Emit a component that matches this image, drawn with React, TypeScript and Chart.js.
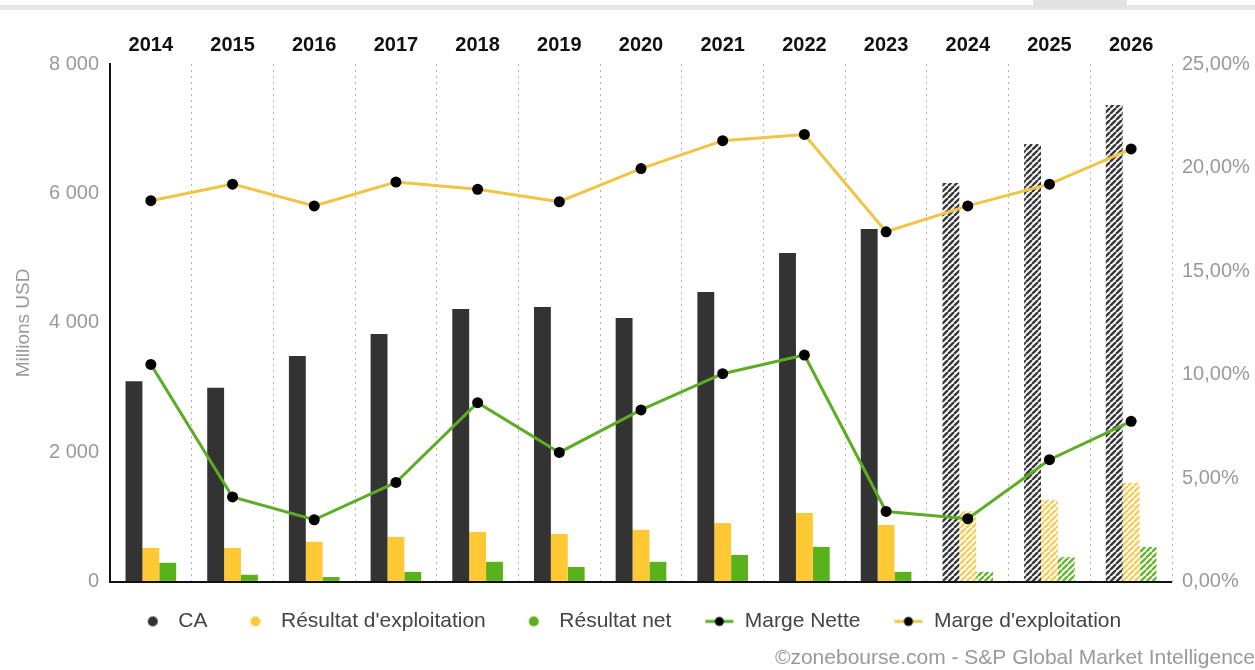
import React, { useEffect, useRef } from 'react';
import { Chart, registerables } from 'chart.js';

Chart.register(...registerables);

const years = ['2014', '2015', '2016', '2017', '2018', '2019', '2020', '2021', '2022', '2023', '2024', '2025', '2026'];
const estimated = [false, false, false, false, false, false, false, false, false, false, true, true, true];
const chiffreAffaires = [3100, 3000, 3490, 3830, 4215, 4245, 4075, 4480, 5080, 5450, 6160, 6765, 7365];
const resultatExploitation = [525, 525, 620, 695, 770, 740, 805, 910, 1065, 880, 1090, 1270, 1530];
const resultatNet = [295, 110, 75, 155, 310, 230, 310, 415, 540, 155, 155, 385, 540];
const margeNette = [10.5, 4.1, 3.0, 4.8, 8.65, 6.25, 8.3, 10.05, 10.95, 3.4, 3.05, 5.9, 7.75];
const margeExploitation = [18.4, 19.2, 18.15, 19.3, 18.95, 18.35, 19.95, 21.3, 21.6, 16.9, 18.15, 19.2, 20.9];
const leftTickValues = [0, 2000, 4000, 6000, 8000];
const rightTickValues = [0, 5, 10, 15, 20, 25];

const FONT = "'Liberation Sans', Arial, sans-serif";
const C_CA = '#333333';
const C_EXP = '#ffc935';
const C_NET = '#59b21b';
const C_LINE_NET = '#5cad24';
const C_LINE_EXP = '#f0c444';

function hatch(ctx: CanvasRenderingContext2D, color: string) {
  const s = 6;
  const c = document.createElement('canvas');
  c.width = s;
  c.height = s;
  const g = c.getContext('2d')!;
  g.fillStyle = '#ffffff';
  g.fillRect(0, 0, s, s);
  g.strokeStyle = color;
  g.lineWidth = 2.4;
  g.beginPath();
  for (const k of [-s, 0, s]) {
    g.moveTo(k, s);
    g.lineTo(k + s, 0);
  }
  g.stroke();
  return ctx.createPattern(c, 'repeat')!;
}

const ICON_W = 34;

function dotIcon(color: string) {
  const c = document.createElement('canvas');
  c.width = ICON_W;
  c.height = 12;
  const g = c.getContext('2d')!;
  g.fillStyle = color;
  g.beginPath();
  g.arc(ICON_W - 15, 6, 5, 0, Math.PI * 2);
  g.fill();
  return c;
}

function lineIcon(color: string) {
  const c = document.createElement('canvas');
  c.width = ICON_W;
  c.height = 12;
  const g = c.getContext('2d')!;
  g.strokeStyle = color;
  g.lineWidth = 3;
  g.beginPath();
  g.moveTo(ICON_W - 29, 6);
  g.lineTo(ICON_W - 1, 6);
  g.stroke();
  g.fillStyle = '#000';
  g.beginPath();
  g.arc(ICON_W - 15, 6, 4.5, 0, Math.PI * 2);
  g.fill();
  return c;
}

const fmtLeft = (v: number) => String(v).replace(/\B(?=(\d{3})+(?!\d))/g, ' ');
const fmtRight = (v: number) => v.toFixed(2).replace('.', ',') + '%';

export default function App() {
  const ref = useRef<HTMLCanvasElement | null>(null);

  useEffect(() => {
    const canvas = ref.current!;
    const ctx = canvas.getContext('2d')!;
    const caColors = estimated.map((e) => (e ? hatch(ctx, '#3a3a3a') : C_CA));
    const expColors = estimated.map((e) => (e ? hatch(ctx, '#f8cd55') : C_EXP));
    const netColors = estimated.map((e) => (e ? hatch(ctx, '#62b82a') : C_NET));

    const legendIcons = [dotIcon(C_CA), dotIcon(C_EXP), dotIcon(C_NET), lineIcon(C_LINE_NET), lineIcon(C_LINE_EXP)];
    const legendOrder = [2, 3, 4, 0, 1];

    const chart = new Chart(ctx, {
      type: 'bar',
      data: {
        labels: years,
        datasets: [
          {
            type: 'line',
            label: 'Marge Nette',
            data: margeNette,
            yAxisID: 'y1',
            borderColor: C_LINE_NET,
            borderWidth: 3,
            pointRadius: 5.5,
            pointBackgroundColor: '#000',
            pointBorderColor: '#000',
            pointBorderWidth: 0,
            tension: 0,
          },
          {
            type: 'line',
            label: "Marge d'exploitation",
            data: margeExploitation,
            yAxisID: 'y1',
            borderColor: C_LINE_EXP,
            borderWidth: 3,
            pointRadius: 5.5,
            pointBackgroundColor: '#000',
            pointBorderColor: '#000',
            pointBorderWidth: 0,
            tension: 0,
          },
          {
            label: 'CA',
            data: chiffreAffaires,
            yAxisID: 'y',
            backgroundColor: caColors as any,
            categoryPercentage: 0.62,
            barPercentage: 1,
          },
          {
            label: "Résultat d'exploitation",
            data: resultatExploitation,
            yAxisID: 'y',
            backgroundColor: expColors as any,
            categoryPercentage: 0.62,
            barPercentage: 1,
          },
          {
            label: 'Résultat net',
            data: resultatNet,
            yAxisID: 'y',
            backgroundColor: netColors as any,
            categoryPercentage: 0.62,
            barPercentage: 1,
          },
        ],
      },
      options: {
        responsive: false,
        animation: false,
        events: [],
        layout: { padding: 0 },
        scales: {
          x: {
            position: 'top',
            grid: { color: '#b5b5b5', lineWidth: 1, drawTicks: false },
            border: { display: false, dash: [2, 4] },
            ticks: { color: '#111', font: { family: FONT, size: 20, weight: 'bold' }, padding: 7 },
            afterFit: (s: any) => {
              s.height = 64;
            },
          },
          y: {
            position: 'left',
            min: 0,
            max: 8000,
            afterBuildTicks: (s: any) => {
              s.ticks = leftTickValues.map((v) => ({ value: v }));
            },
            ticks: { color: '#9a9a9a', font: { family: FONT, size: 20 }, padding: 11, callback: (v: any) => fmtLeft(Number(v)) },
            grid: {
              drawTicks: false,
              lineWidth: 2,
              color: (c: any) => (c.tick && c.tick.value === 0 ? '#111' : 'rgba(0,0,0,0)'),
            },
            border: { display: true, color: '#111', width: 2 },
            title: { display: true, text: 'Millions USD', color: '#9a9a9a', font: { family: FONT, size: 19 }, padding: { top: 12, bottom: 0 } },
            afterFit: (s: any) => {
              s.width = 110;
            },
          },
          y1: {
            position: 'right',
            min: 0,
            max: 25,
            afterBuildTicks: (s: any) => {
              s.ticks = rightTickValues.map((v) => ({ value: v }));
            },
            ticks: { color: '#9a9a9a', font: { family: FONT, size: 20 }, padding: 10, callback: (v: any) => fmtRight(Number(v)) },
            grid: { display: false, drawTicks: false },
            border: { display: false },
            afterFit: (s: any) => {
              s.width = 83;
            },
          },
        },
        plugins: {
          tooltip: { enabled: false },
          legend: {
            display: true,
            position: 'bottom',
            labels: {
              usePointStyle: true,
              pointStyleWidth: ICON_W,
              boxHeight: 21,
              padding: 29,
              color: '#444',
              font: { family: FONT, size: 21 },
              generateLabels: (ch: any) =>
                legendOrder.map((di, i) => ({
                  text: ch.data.datasets[di].label,
                  fillStyle: '#000',
                  strokeStyle: '#000',
                  lineWidth: 0,
                  pointStyle: legendIcons[i],
                  hidden: false,
                  datasetIndex: di,
                  fontColor: '#444',
                })),
            },
          },
          title: {
            display: true,
            position: 'bottom',
            align: 'end',
            text: '©zonebourse.com - S&P Global Market Intelligence',
            color: '#999',
            font: { family: FONT, size: 21, weight: 'normal', lineHeight: 1.1 },
            padding: { top: 5, bottom: 0 },
          },
        },
      },
    } as any);

    return () => chart.destroy();
  }, []);

  return (
    <div style={{ position: 'fixed', left: 0, top: 0, width: 1255, height: 670, background: '#fff', overflow: 'hidden' }}>
      <canvas ref={ref} width={1255} height={670} style={{ width: 1255, height: 670, display: 'block' }} />
      <div style={{ position: 'absolute', left: 0, top: 5, width: 1255, height: 5, background: '#e8e8e8' }} />
      <div style={{ position: 'absolute', left: 1033, top: 0, width: 94, height: 8, background: '#e2e2e2' }} />
    </div>
  );
}
